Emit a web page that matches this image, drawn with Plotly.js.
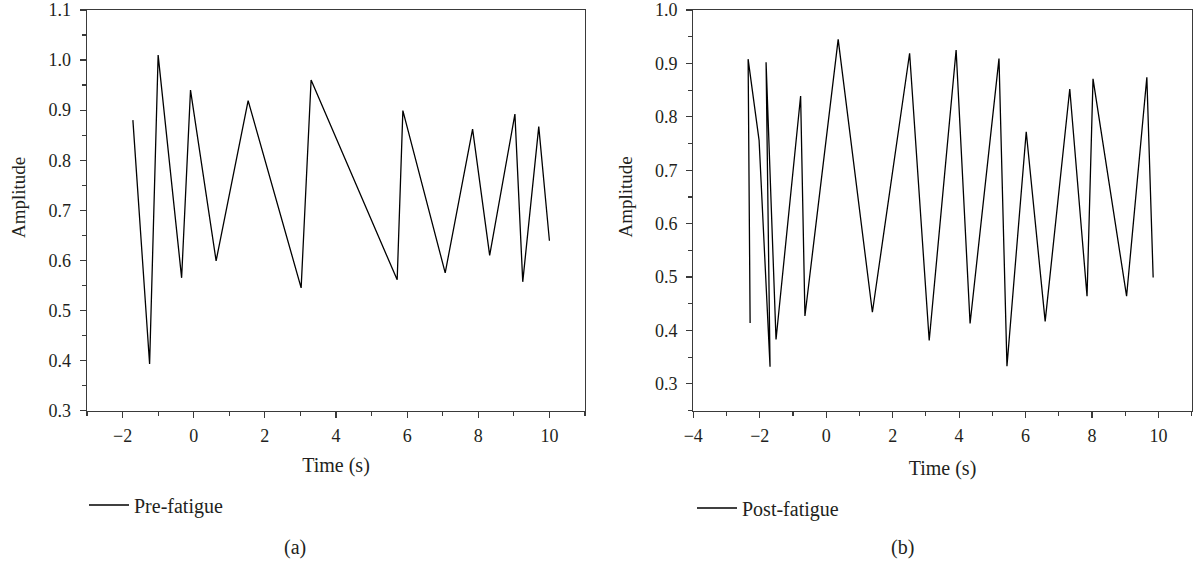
<!DOCTYPE html>
<html>
<head>
<meta charset="utf-8">
<script src="https://cdn.plot.ly/plotly-3.0.1.min.js"></script>
<style>html,body{margin:0;padding:0;background:#fff;}#chart{width:1199px;height:566px;}</style>
</head>
<body>
<div id="chart"></div>
<script>
// Pre-fatigue (a)
const preTime = [-1.71, -1.24, -1.00, -0.34, -0.09, 0.63, 1.53, 3.02, 3.30, 5.72, 5.88, 7.07, 7.84, 8.32, 9.03, 9.25, 9.70, 10.00];
const preAmp  = [0.880, 0.393, 1.010, 0.565, 0.940, 0.599, 0.919, 0.545, 0.960, 0.561, 0.899, 0.575, 0.862, 0.610, 0.892, 0.557, 0.867, 0.639];
// Post-fatigue (b)
const postTime = [-2.29, -2.35, -2.02, -1.69, -1.81, -1.51, -0.77, -0.64, 0.36, 1.39, 2.51, 3.10, 3.91, 4.33, 5.20, 5.44, 6.02, 6.59, 7.33, 7.85, 8.03, 9.04, 9.65, 9.84];
const postAmp  = [0.414, 0.908, 0.756, 0.332, 0.902, 0.383, 0.839, 0.427, 0.945, 0.434, 0.919, 0.381, 0.925, 0.413, 0.909, 0.333, 0.772, 0.417, 0.852, 0.464, 0.871, 0.464, 0.874, 0.499];

const seriesNames = ['Pre-fatigue', 'Post-fatigue'];
const panelLabels = ['(a)', '(b)'];
const xTitle = 'Time (s)';
const yTitle = 'Amplitude';

const FONT = 'Liberation Serif, Times New Roman, serif';
const W = 1199, H = 566;
const axisColor = '#3a3a3a';
const textColor = '#231f20';

function xAxis(domain, range, anchor, standoff) {
  return {
    domain: domain, range: range, anchor: anchor,
    showline: true, mirror: true, linecolor: axisColor, linewidth: 1.3,
    ticks: 'outside', ticklen: 6, tickwidth: 1.2, tickcolor: axisColor,
    ticklabelstandoff: 3,
    tick0: 0, dtick: 2, showgrid: false, zeroline: false,
    minor: {ticks: 'outside', ticklen: 4, tickwidth: 1.2, tickcolor: axisColor, dtick: 1, tick0: 0, showgrid: false},
    tickfont: {family: FONT, size: 18, color: textColor},
    title: {text: xTitle, font: {family: FONT, size: 20, color: textColor}, standoff: standoff}
  };
}
function yAxis(domain, range, anchor, tick0) {
  return {
    domain: domain, range: range, anchor: anchor,
    showline: true, mirror: true, linecolor: axisColor, linewidth: 1.3,
    ticks: 'outside', ticklen: 6, tickwidth: 1.2, tickcolor: axisColor,
    ticklabelstandoff: 5,
    tick0: tick0, dtick: 0.1, tickformat: '.1f', showgrid: false, zeroline: false,
    minor: {ticks: 'outside', ticklen: 4, tickwidth: 1.2, tickcolor: axisColor, dtick: 0.05, tick0: 0.25, showgrid: false},
    tickfont: {family: FONT, size: 18, color: textColor}
  };
}

const yDom = [1 - 410.5 / H, 1 - 10 / H];

const traces = [
  {x: preTime, y: preAmp, type: 'scatter', mode: 'lines', name: seriesNames[0],
   line: {color: '#000', width: 1.3}, xaxis: 'x', yaxis: 'y', legend: 'legend'},
  {x: postTime, y: postAmp, type: 'scatter', mode: 'lines', name: seriesNames[1],
   line: {color: '#000', width: 1.3}, xaxis: 'x2', yaxis: 'y2', legend: 'legend2'}
];

const textFont = {family: FONT, size: 20, color: textColor};
const yTitleFont = {family: FONT, size: 19, color: textColor};
const layout = {
  width: W, height: H,
  margin: {l: 0, r: 0, t: 0, b: 0},
  paper_bgcolor: '#fff', plot_bgcolor: '#fff',
  font: {family: FONT, size: 18, color: textColor},
  xaxis: xAxis([87 / W, 585 / W], [-3, 11], 'y', 12),
  yaxis: yAxis(yDom, [0.3, 1.1], 'x', 0.3),
  xaxis2: xAxis([693.3 / W, 1191.7 / W], [-4, 11], 'y2', 15),
  yaxis2: yAxis(yDom, [0.25, 1.0], 'x2', 0.3),
  showlegend: true,
  legend: {x: 84 / W, y: 1 - 505 / H, xanchor: 'left', yanchor: 'middle', itemwidth: 40,
           bgcolor: 'rgba(0,0,0,0)', font: textFont},
  legend2: {x: 692 / W, y: 1 - 508 / H, xanchor: 'left', yanchor: 'middle', itemwidth: 40,
            bgcolor: 'rgba(0,0,0,0)', font: textFont},
  annotations: [
    {text: yTitle, xref: 'paper', yref: 'paper', x: 18 / W, y: 1 - 198 / H, textangle: -90,
     xanchor: 'center', yanchor: 'middle', showarrow: false, font: yTitleFont},
    {text: yTitle, xref: 'paper', yref: 'paper', x: 624.5 / W, y: 1 - 197 / H, textangle: -90,
     xanchor: 'center', yanchor: 'middle', showarrow: false, font: yTitleFont},
    {text: panelLabels[0], xref: 'paper', yref: 'paper', x: 295 / W, y: 1 - 547 / H,
     xanchor: 'center', yanchor: 'middle', showarrow: false, font: textFont},
    {text: panelLabels[1], xref: 'paper', yref: 'paper', x: 902 / W, y: 1 - 547 / H,
     xanchor: 'center', yanchor: 'middle', showarrow: false, font: textFont}
  ]
};

Plotly.newPlot('chart', traces, layout, {displayModeBar: false, staticPlot: true});
</script>
</body>
</html>
